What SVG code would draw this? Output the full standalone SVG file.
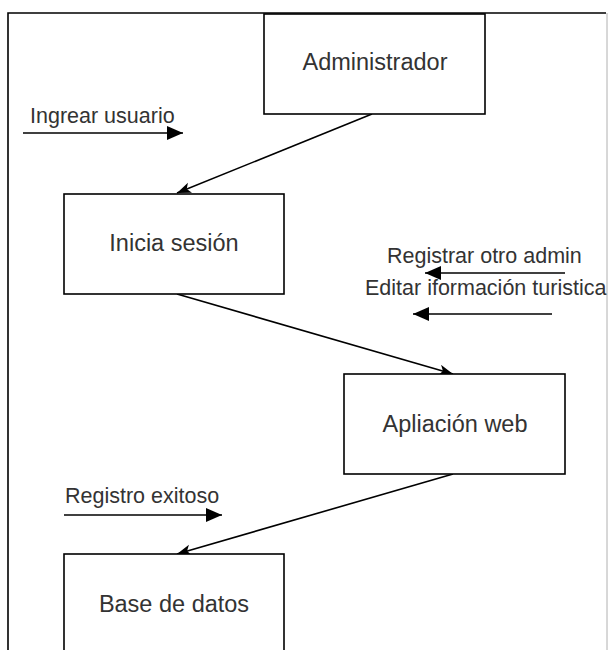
<svg xmlns="http://www.w3.org/2000/svg" width="608" height="650" viewBox="0 0 608 650">
<style>
.box{fill:#ffffff;stroke:#000000;stroke-width:1.6}
.lbl{font-family:"Liberation Sans",Arial,sans-serif;fill:#333333}
.node{font-size:23.5px;text-anchor:middle}
.edge{font-size:21.5px}
.con{stroke:#000000;stroke-width:1.6;fill:none}
</style>
<defs>
<marker id="classic" markerUnits="userSpaceOnUse" markerWidth="16" markerHeight="12" refX="14" refY="5.5" orient="auto">
<path d="M0,0 L14,5.5 L0,11 L3.5,5.5 Z" fill="#000"/>
</marker>
<marker id="block" markerUnits="userSpaceOnUse" markerWidth="17" markerHeight="15" refX="16" refY="7" orient="auto">
<path d="M0,0 L16,7 L0,14 Z" fill="#000"/>
</marker>
</defs>
<rect x="0" y="0" width="608" height="650" fill="#ffffff"/>
<g id="frame">
<path d="M8,660 L8,13 L606,13" fill="none" stroke="#000" stroke-width="1.6"/>
<line x1="607" y1="13" x2="607" y2="650" stroke="#b0b0b0" stroke-width="1"/>
</g>
<g id="connectors">
<line class="con" x1="372" y1="114" x2="177" y2="193" marker-end="url(#classic)"/>
<line class="con" x1="177" y1="294" x2="453" y2="374" marker-end="url(#classic)"/>
<line class="con" x1="453" y1="474" x2="177" y2="554" marker-end="url(#classic)"/>
<line class="con" x1="23" y1="133" x2="183" y2="133" marker-end="url(#block)"/>
<line class="con" x1="565" y1="273" x2="425" y2="273" marker-end="url(#block)"/>
<line class="con" x1="552" y1="314" x2="413" y2="314" marker-end="url(#block)"/>
<line class="con" x1="64" y1="515" x2="222" y2="515" marker-end="url(#block)"/>
<text class="lbl edge" x="30" y="123">Ingrear usuario</text>
<text class="lbl edge" x="387" y="263">Registrar otro admin</text>
<text class="lbl edge" x="365" y="295">Editar iformación turistica</text>
<text class="lbl edge" x="65" y="503">Registro exitoso</text>
</g>
<g id="administrador">
<rect class="box" x="264" y="14" width="221" height="100"/>
<text class="lbl node" x="375" y="70">Administrador</text>
</g>
<g id="inicia-sesion">
<rect class="box" x="64" y="194" width="220" height="100"/>
<text class="lbl node" x="174" y="251">Inicia sesión</text>
</g>
<g id="aplicacion-web">
<rect class="box" x="344" y="374" width="221" height="100"/>
<text class="lbl node" x="455" y="432">Apliación web</text>
</g>
<g id="base-de-datos">
<rect class="box" x="64" y="554" width="220" height="120"/>
<text class="lbl node" x="174" y="612">Base de datos</text>
</g>
</svg>
